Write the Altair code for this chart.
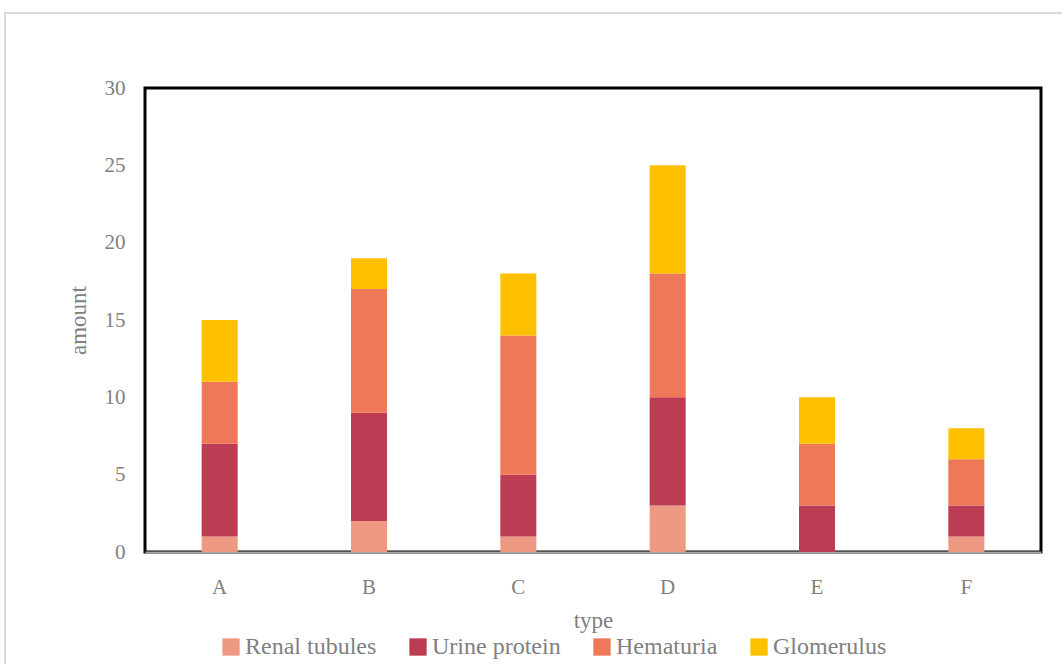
import altair as alt
import pandas as pd

# Stacked amounts per type
types = ["A", "B", "C", "D", "E", "F"]
series = ["Renal tubules", "Urine protein", "Hematuria", "Glomerulus"]
renal_tubules = [1, 2, 1, 3, 0, 1]
urine_protein = [6, 7, 4, 7, 3, 2]
hematuria = [4, 8, 9, 8, 4, 3]
glomerulus = [4, 2, 4, 7, 3, 2]
colors = ["#EE9982", "#BC3C53", "#EE7858", "#FFC000"]

rows = []
for si, (name, vals) in enumerate(zip(series, [renal_tubules, urine_protein, hematuria, glomerulus])):
    for t, v in zip(types, vals):
        rows.append({"type": t, "series": name, "amount": v, "order": si})
df = pd.DataFrame(rows)

FONT = "Liberation Serif"
GRAY = "#808080"

bars = alt.Chart(df).mark_bar(width=36).encode(
    x=alt.X("type:N", sort=types, scale=alt.Scale(paddingInner=0, paddingOuter=0),
            axis=alt.Axis(title="type", labelAngle=0, ticks=False, labelPadding=24,
                          titlePadding=12, domainColor="#a6a6a6", domainWidth=2)),
    y=alt.Y("amount:Q", stack="zero", scale=alt.Scale(domain=[0, 30], nice=False),
            axis=alt.Axis(title="amount", values=[0, 5, 10, 15, 20, 25, 30], grid=False,
                          ticks=False, domain=False, labelPadding=20, titlePadding=14)),
    color=alt.Color("series:N", scale=alt.Scale(domain=series, range=colors),
                    legend=alt.Legend(title=None, orient="none", direction="horizontal",
                                      legendX=74, legendY=547, symbolType="square",
                                      symbolSize=300, symbolStrokeWidth=0, columnPadding=29,
                                      labelOffset=2, labelFont=FONT, labelFontSize=24,
                                      labelColor=GRAY)),
    order=alt.Order("order:Q"),
)

# Light outer frame around the whole figure
frame = alt.Chart(pd.DataFrame({"k": [0]})).mark_rect(
    fill=None, stroke="#d9d9d9", strokeWidth=2
).encode(x=alt.value(-140), x2=alt.value(930), y=alt.value(-75), y2=alt.value(590))

chart = alt.layer(frame, bars).properties(
    width=896, height=464,
    background="white",
    autosize=alt.AutoSizeParams(type="none"),
    padding={"left": 145, "top": 88, "right": 21, "bottom": 112},
).configure_view(
    stroke="black", strokeWidth=3
).configure_axis(
    labelFont=FONT, labelFontSize=21, labelColor=GRAY,
    titleFont=FONT, titleFontSize=23, titleColor=GRAY, titleFontWeight="normal",
)

chart.save("out.html", embed_options={"renderer": "svg", "actions": False})
